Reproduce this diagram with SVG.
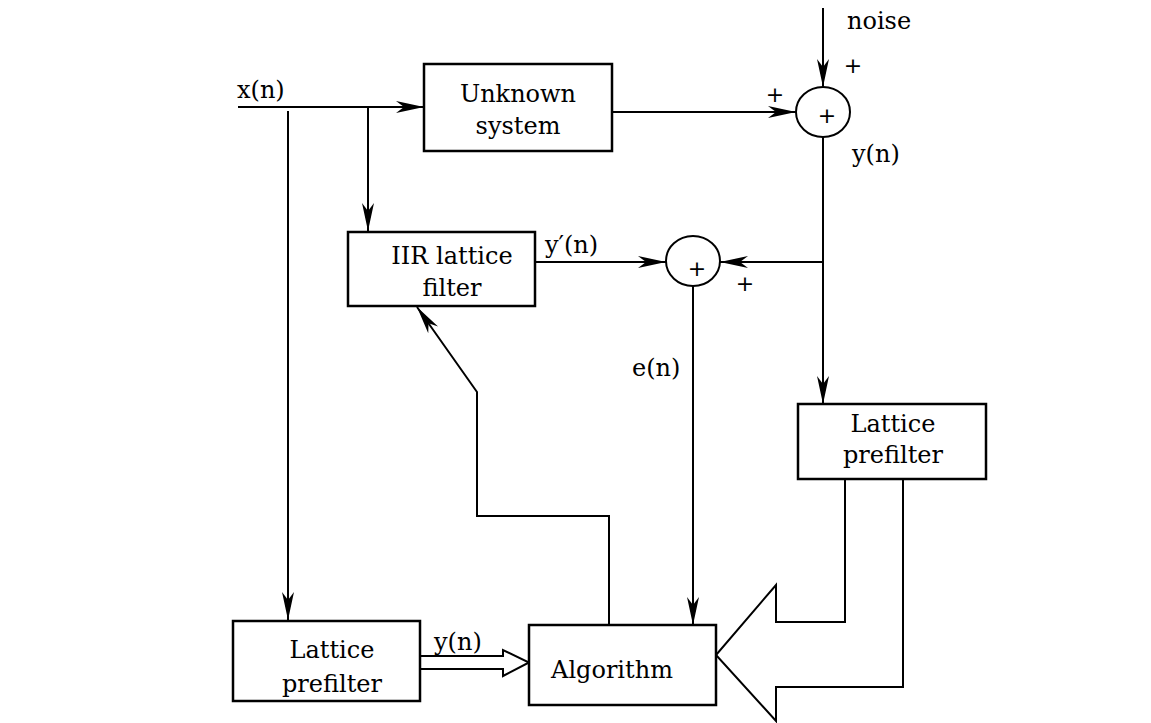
<svg xmlns="http://www.w3.org/2000/svg" width="1151" height="723" viewBox="0 0 1151 723">
<style>
.box{fill:#fff;stroke:#000;stroke-width:2.5}
.ln{fill:none;stroke:#000;stroke-width:2}
.lbl{font-family:"DejaVu Serif","Liberation Serif",serif;font-size:24px;fill:#000}
.pl{font-family:"DejaVu Sans","Liberation Sans",sans-serif;font-size:22px;fill:#000;text-anchor:middle}
.mid{text-anchor:middle}
</style>
<defs>
<marker id="ah" markerUnits="userSpaceOnUse" markerWidth="30" markerHeight="14" refX="28" refY="7" orient="auto">
<path d="M28,7 L0,1 L8,7 L0,13 Z" fill="#000"/>
</marker>
</defs>
<rect width="1151" height="723" fill="#fff"/>

<g id="connectors">
<path class="ln" d="M238,107 H424" marker-end="url(#ah)"/>
<path class="ln" d="M288,111 V620" marker-end="url(#ah)"/>
<path class="ln" d="M368,107 V231" marker-end="url(#ah)"/>
<path class="ln" d="M612,112 H796" marker-end="url(#ah)"/>
<path class="ln" d="M823,8 V87" marker-end="url(#ah)"/>
<path class="ln" d="M823,137 V404" marker-end="url(#ah)"/>
<path class="ln" d="M823,262 H720" marker-end="url(#ah)"/>
<path class="ln" d="M535,262 H666" marker-end="url(#ah)"/>
<path class="ln" d="M693,286 V625" marker-end="url(#ah)"/>
<path class="ln" d="M609,625 V516 H477 V392 L417,307" marker-end="url(#ah)"/>
<path class="ln" d="M420,656 H503 V650 L529,662.5 L503,676 V669 H420" stroke-width="2.5"/>
<path class="ln" d="M845,479 V622 H776 V585 L716,655 L776,721 V687 H903 V479" stroke-width="2.5"/>
</g>

<g id="unknown-system">
<rect class="box" x="424" y="64" width="188" height="87"/>
<text class="lbl mid" x="518" y="102">Unknown</text>
<text class="lbl mid" x="518" y="134">system</text>
</g>
<g id="sum-noise">
<ellipse class="ln" cx="823" cy="112" rx="27" ry="25" stroke-width="2.5"/>
<text class="pl" x="827" y="123">+</text>
</g>
<g id="iir-filter">
<rect class="box" x="348" y="232" width="187" height="74"/>
<text class="lbl mid" x="452" y="264">IIR lattice</text>
<text class="lbl mid" x="452" y="296">filter</text>
</g>
<g id="sum-error">
<ellipse class="ln" cx="693" cy="261" rx="27" ry="25" stroke-width="2.5"/>
<text class="pl" x="697" y="276">+</text>
</g>
<g id="lattice-prefilter-right">
<rect class="box" x="798" y="404" width="188" height="75"/>
<text class="lbl mid" x="893" y="432">Lattice</text>
<text class="lbl mid" x="893" y="463">prefilter</text>
</g>
<g id="lattice-prefilter-left">
<rect class="box" x="233" y="621" width="187" height="80"/>
<text class="lbl mid" x="332" y="658">Lattice</text>
<text class="lbl mid" x="332" y="692">prefilter</text>
</g>
<g id="algorithm">
<rect class="box" x="529" y="625" width="187" height="80"/>
<text class="lbl mid" x="612" y="678">Algorithm</text>
</g>

<g id="labels">
<text class="lbl" x="237" y="98">x(n)</text>
<text class="lbl" x="847" y="29">noise</text>
<text class="lbl" x="852" y="162">y(n)</text>
<text class="lbl" x="545" y="253">y′(n)</text>
<text class="lbl" x="632" y="376">e(n)</text>
<text class="lbl" x="434" y="650">y(n)</text>
<text class="pl" x="853" y="73">+</text>
<text class="pl" x="775" y="102">+</text>
<text class="pl" x="745" y="291">+</text>
</g>
</svg>
